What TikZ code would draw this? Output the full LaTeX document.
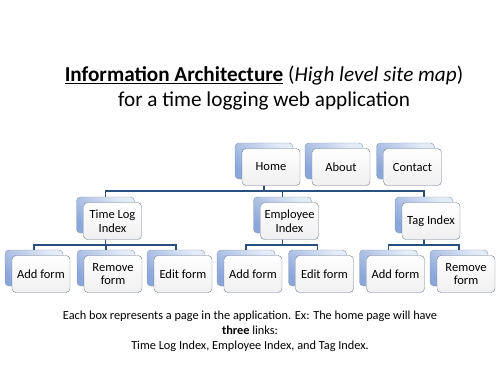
\documentclass[tikz,border=0pt]{standalone}
\usepackage{fontspec}
\setmainfont{Carlito}
\usetikzlibrary{positioning}
\usetikzlibrary{calc}
\definecolor{linkblue}{HTML}{2B4F7E}
\definecolor{backdark}{HTML}{8AA6DA}
\definecolor{backlight}{HTML}{E4ECF8}
\definecolor{boxedge}{HTML}{6E7C8E}
\tikzset{
    x=1pt, y=-1pt,
    every node/.append style={font=\fontsize{12.5}{13.5}\selectfont},
    pageback/.style={minimum width=58pt, minimum height=36pt, inner sep=0pt, rounded corners=4pt,
        draw=boxedge!80, top color=backlight, bottom color=backdark, shading angle=-40},
    pagefront/.style={minimum width=58pt, minimum height=37pt, inner sep=0pt, rounded corners=4pt,
        draw=boxedge, top color=white, bottom color=black!6, align=center},
    link/.style={linkblue, line width=1.1pt}
}

\begin{document}
\begin{tikzpicture}
\useasboundingbox (0,0) rectangle (500,375);

\node[font=\fontsize{21.2}{25}\selectfont, align=center] (title) at (264,88)
    {\underline{\textbf{Information Architecture}} (\textit{High level site map})\\for a time logging web application};

% back pages
\node[pageback] (home) at (264,161) {};
\node[pageback] (about) at (334,161) {};
\node[pageback] (contact) at (405.5,161) {};
\node[pageback] (tli) at (105.5,215) {};
\node[pageback] (emp) at (282.5,215) {};
\node[pageback] (tag) at (424,215) {};
\node[pageback] (tliadd) at (34,268) {};
\node[pageback] (tlirem) at (106,268) {};
\node[pageback] (tliedit) at (176,268) {};
\node[pageback] (empadd) at (246,268) {};
\node[pageback] (empedit) at (317.5,268) {};
\node[pageback] (tagadd) at (388.5,268) {};
\node[pageback] (tagrem) at (459,268) {};

% links
\coordinate (busA) at (0,191);
\coordinate (busB) at (0,245);
\draw[link] (home.south) -- (home.south |- busA);
\draw[link] (tli.north) |- (tli.north |- busA) -| (tag.north);
\draw[link] (emp.north) -- (emp.north |- busA);

\draw[link] (tli.south) -- (tli.south |- busB);
\draw[link] (tliadd.north) |- (tliadd.north |- busB) -| (tliedit.north);
\draw[link] (tlirem.north) -- (tlirem.north |- busB);

\draw[link] (emp.south) -- (emp.south |- busB);
\draw[link] (empadd.north) |- (empadd.north |- busB) -| (empedit.north);

\draw[link] (tag.south) -- (tag.south |- busB);
\draw[link] (tagadd.north) |- (tagadd.north |- busB) -| (tagrem.north);

% front pages
\foreach \pg/\txt in {home/Home, about/About, contact/Contact,
    tli/{Time Log\\Index}, emp/{Employee\\Index}, tag/Tag Index,
    tliadd/Add form, tlirem/{Remove\\form}, tliedit/Edit form,
    empadd/Add form, empedit/Edit form, tagadd/Add form, tagrem/{Remove\\form}}
    \node[pagefront] (\pg F) at ($(\pg)+(7,6)$) {\txt};

\node[font=\fontsize{12.3}{15}\selectfont, align=center] (note) at (250,331)
    {Each box represents a page in the application. Ex: The home page will have\\
     \textbf{three} links:\\
     Time Log Index, Employee Index, and Tag Index.};
\end{tikzpicture}
\end{document}
